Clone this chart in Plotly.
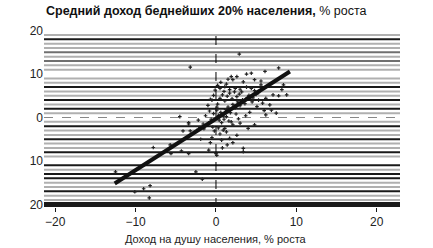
import plotly.graph_objects as go

# ---- data ----
pts_x = [-3.2, 2.9, 7.8, 4.4, 3.8, 6.1, 1.9, 2.6, 2.1, 1.5, 4.8, 5.6, 0.5, 1.1, 1.7, 2.4, 3.0, 3.8, 4.4, 4.8,
         5.3, 5.6, 8.4, 7.1, 7.8, 8.8, 8.2, -0.5, 6.7, 6.9, 5.1, 5.3, -0.1, -0.7, 0.1, -4.5, -3.4, -3.4, -4.1, -3.2,
         -7.8, -5.7, -5.6, -4.3, -3.4, -1.9, -0.7, -0.9, 0.0, -2.5, -1.7, -12.5, -10.1, -9.0, -8.2, -8.3, -1.6,
         0.1, 0.7, 2.1, 1.7, 3.4, 3.4, 0.9, 1.3, 1.1, 4.0, 3.0, 2.1, 1.9, 4.8, 7.5, 6.2, 6.0,
         0.3, 0.6, 0.9, 1.2, 1.5, 1.8, 2.1, 2.4, 2.7, 3.0, 3.3, 3.6, 3.9, 0.2, 0.5, 0.8, 1.1, 1.4, 1.7, 2.0,
         2.3, 2.6, 2.9, 3.2, 0.4, 0.7, 1.0, 1.3, 1.6, 0.1, -0.3, -0.6, -0.9, -1.2, -0.4, -0.2, 0.5, 0.3, -1.5,
         -2.0, -2.4, -0.8, -1.0, -0.3, 0.2, 0.6, 1.0, 1.3, 3.4, 4.1, 4.5, 4.2, 3.7, 2.8, 2.5, 4.6, 5.0, 5.8,
         6.2, -1.3, -2.2, -0.5, 1.4, 2.6, 0.8]
pts_y = [11.6, 14.6, 11.4, 10.2, 10.0, 10.6, 9.4, 9.4, 8.7, 8.8, 8.7, 8.4, 6.7, 7.1, 6.4, 6.7, 6.5, 7.0, 6.7, 6.2,
         5.7, 7.5, 7.5, 5.2, 5.0, 5.2, 6.4, 4.0, 2.9, 1.7, 2.5, 4.0, 6.3, 4.2, 2.4, 0.2, -1.2, -1.5, -3.1, -3.1,
         -6.9, -6.3, -8.3, -7.7, -8.3, -5.0, -5.8, -7.5, -8.3, -12.5, -14.2, -12.5, -17.1, -16.4, -15.7, -18.5, -1.5,
         -8.7, -5.2, -5.8, -4.8, -7.1, -7.9, -2.9, -3.3, -2.5, -2.5, -1.3, -1.7, -1.0, -1.7, 1.0, 0.6, 1.6,
         0.5, 1.2, 0.3, 1.8, 2.4, 1.1, 3.0, 2.2, 3.6, 2.7, 4.1, 3.2, 4.6, 3.1, 4.4, 5.2, 3.8, 4.9, 5.6, 4.3,
         5.9, 4.8, 5.4, 5.9, -0.6, -1.2, -0.4, 0.2, -0.8, 1.7, 0.9, -0.4, -1.3, -1.8, -2.2, -3.1, -3.8, -2.4, -2.6,
         -2.3, -3.0, 1.5, 2.8, 5.1, 7.4, 8.1, 6.0, 7.7, 8.2, 5.1, 3.6, 1.2, 0.4, -0.3, 0.8, 4.5, 5.3, 3.3,
         4.4, 0.4, -0.6, -4.6, -6.3, -4.1, -7.0]

fit_x = [-12.6, 9.2]
fit_y = [-15.2, 10.6]

x_ticks = [-20, -10, 0, 10, 20]
y_ticks = [20, 10, 0, -10, -20]
y_tick_text = ["20", "10", "0", "10", "20"]

# decorative background stripes: level and shade
stripe_levels = [19, 18, 17, 16, 15, 14, 13, 12, 11, 9, 8, 7, 6, 5, 4, 3, 2, 1,
                 -1, -2, -3, -4, -5, -6, -7, -8, -9, -11, -12, -13, -14, -15, -16, -17, -18, -19]
stripe_shade = ["g", "k", "g", "g", "d", "g", "d", "g", "g", "g", "g", "k", "g", "g", "k", "g", "k", "g",
                "g", "k", "g", "g", "k", "g", "g", "k", "g", "k", "g", "k", "k", "g", "g", "k", "g", "g"]
shade_color = {"g": "#b0b0b0", "d": "#707070", "k": "#1a1a1a"}

FONT = "Liberation Sans, Arial, sans-serif"

fig = go.Figure()

shapes = []
for lv, sh in zip(stripe_levels, stripe_shade):
    shapes.append(dict(type="line", xref="paper", yref="y", x0=0, x1=1, y0=lv, y1=lv,
                       line=dict(color=shade_color[sh], width=2), layer="below"))
# zero lines
shapes.append(dict(type="line", xref="paper", yref="y", x0=0, x1=1, y0=0, y1=0,
                   line=dict(color="#888888", width=1, dash="dash"), layer="below"))
shapes.append(dict(type="line", xref="x", yref="paper", x0=0, x1=0, y0=0, y1=1,
                   line=dict(color="#000000", width=1, dash="dash"), layer="below"))
# thick bottom line
shapes.append(dict(type="line", xref="paper", yref="y", x0=0, x1=1, y0=-20, y1=-20,
                   line=dict(color="#1a1a1a", width=5), layer="below"))

fig.add_trace(go.Scatter(x=pts_x, y=pts_y, mode="markers",
                         marker=dict(symbol="cross", size=3, color="#222222", line=dict(width=0)),
                         hoverinfo="skip", showlegend=False))
fig.add_trace(go.Scatter(x=fit_x, y=fit_y, mode="lines",
                         line=dict(color="#111111", width=4),
                         hoverinfo="skip", showlegend=False))

fig.update_layout(
    width=433, height=248,
    margin=dict(l=44, r=33, t=28, b=41),
    paper_bgcolor="white", plot_bgcolor="white",
    font=dict(family=FONT, size=12, color="#222222"),
    shapes=shapes,
    showlegend=False,
    xaxis=dict(range=[-21.4, 22.9], tickvals=x_ticks, ticks="outside", ticklen=4,
               tickcolor="#1a1a1a", tickwidth=1, showgrid=False, zeroline=False,
               showline=False, tickfont=dict(size=12, family=FONT)),
    yaxis=dict(range=[-20.6, 20.6], tickvals=y_ticks, ticktext=y_tick_text, ticks="",
               showgrid=False, zeroline=False, showline=False,
               tickfont=dict(size=12, family=FONT)),
    annotations=[
        dict(text="<b>Средний доход беднейших 20% населения,</b> % роста",
             xref="paper", yref="paper", x=0, y=1, yshift=8, xanchor="left", yanchor="bottom",
             showarrow=False, font=dict(size=12.5, family=FONT, color="#111111")),
        dict(text="Доход на душу населения, % роста",
             xref="x", yref="paper", x=0, y=0, yshift=-24, xanchor="center", yanchor="top",
             showarrow=False, font=dict(size=11, family=FONT, color="#222222")),
    ],
)

fig.write_html("out.html")
